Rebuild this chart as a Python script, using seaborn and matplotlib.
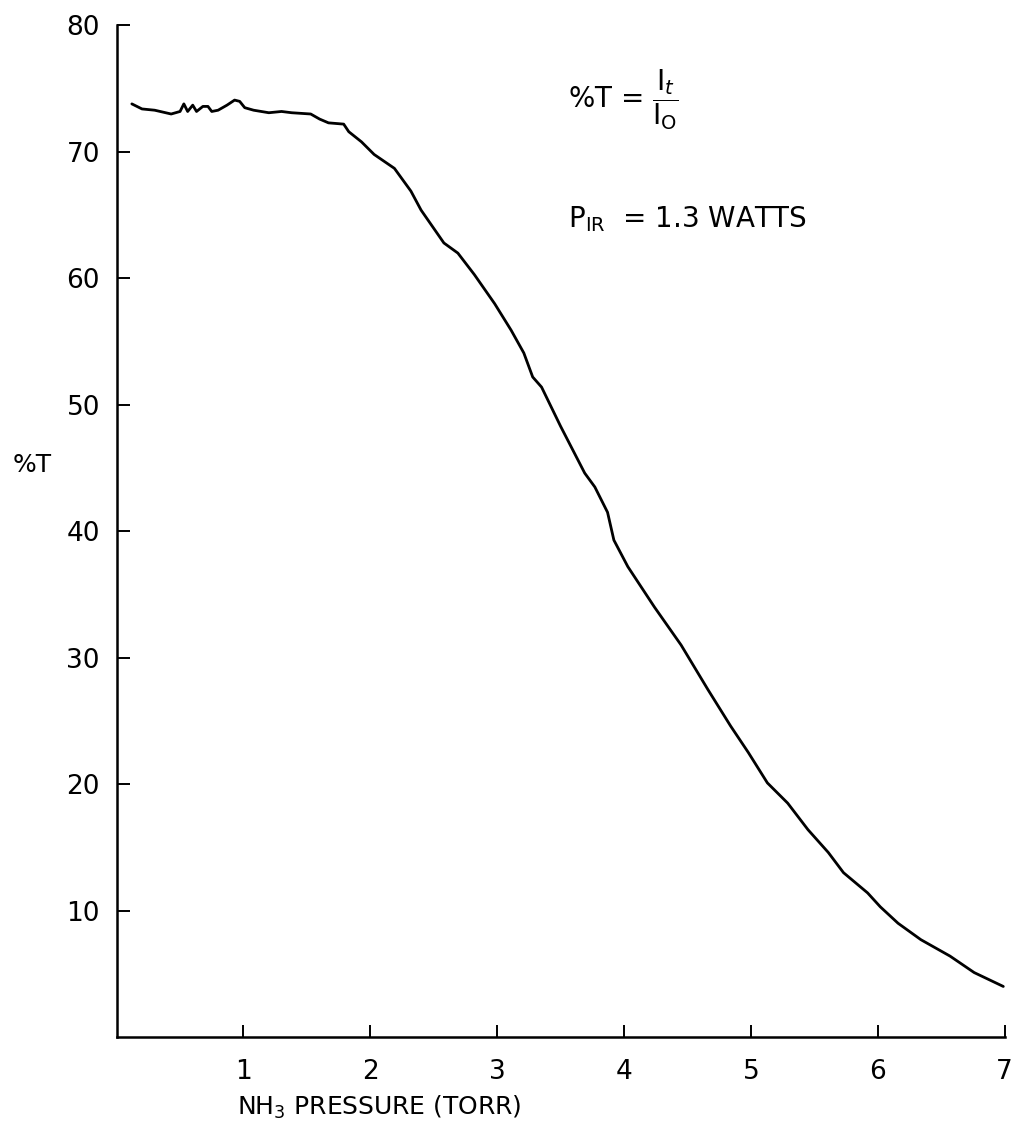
import matplotlib
matplotlib.use("Agg")
import matplotlib.pyplot as plt
import seaborn as sns
import pandas as pd

# Data
pressure = [0.12, 0.20, 0.30, 0.43, 0.50, 0.53, 0.56, 0.60, 0.63, 0.68, 0.72, 0.75,
            0.80, 0.87, 0.93, 0.97, 1.01, 1.08, 1.20, 1.30, 1.38, 1.53, 1.60, 1.67,
            1.79, 1.83, 1.93, 2.03, 2.19, 2.32, 2.40, 2.58, 2.69, 2.82, 2.98, 3.11,
            3.21, 3.28, 3.35, 3.50, 3.69, 3.77, 3.87, 3.92, 4.03, 4.24, 4.45, 4.66,
            4.84, 4.98, 5.13, 5.29, 5.45, 5.61, 5.73, 5.92, 6.02, 6.16, 6.34, 6.57,
            6.76, 6.99]
transmission = [73.8, 73.4, 73.3, 73.0, 73.2, 73.8, 73.2, 73.7, 73.2, 73.6, 73.6, 73.2,
                73.3, 73.7, 74.1, 74.0, 73.5, 73.3, 73.1, 73.2, 73.1, 73.0, 72.6, 72.3,
                72.2, 71.6, 70.8, 69.8, 68.7, 66.9, 65.4, 62.8, 62.0, 60.3, 58.0, 55.9,
                54.1, 52.2, 51.4, 48.3, 44.6, 43.5, 41.5, 39.3, 37.2, 34.0, 31.0, 27.5,
                24.6, 22.5, 20.1, 18.5, 16.4, 14.6, 13.0, 11.4, 10.3, 9.0, 7.7, 6.4,
                5.1, 4.0]
x_ticks = [1, 2, 3, 4, 5, 6, 7]
y_ticks = [10, 20, 30, 40, 50, 60, 70, 80]

sns.set_style("ticks")
plt.rcParams['font.family'] = ['DejaVu Sans']
plt.rcParams['mathtext.fontset'] = 'dejavusans'
plt.rcParams['text.color'] = 'black'
plt.rcParams['axes.labelcolor'] = 'black'

df = pd.DataFrame({"pressure": pressure, "T": transmission})

fig = plt.figure(figsize=(10.23, 11.33), dpi=100)
ax = fig.add_axes([0.114, 0.0847, 0.868, 0.8928])

sns.lineplot(data=df, x="pressure", y="T", ax=ax, color="black", linewidth=2.0,
             estimator=None, sort=False)

ax.set_xlim(0, 7)
ax.set_ylim(0, 80)
ax.set_xticks(x_ticks)
ax.set_yticks(y_ticks)
ax.set_xticklabels([str(v) for v in x_ticks])
ax.set_yticklabels([str(v) for v in y_ticks])
ax.tick_params(axis='both', direction='in', length=9, width=1.4, colors='black',
               labelsize=19)
ax.tick_params(axis='y', pad=12)
ax.tick_params(axis='x', pad=16)
for s in ['top', 'right']:
    ax.spines[s].set_visible(False)
for s in ['left', 'bottom']:
    ax.spines[s].set_linewidth(1.8)
    ax.spines[s].set_color('black')

ax.set_xlabel(r"NH$_3$ PRESSURE (TORR)", fontsize=18, color='black')
ax.xaxis.set_label_coords(0.296, -0.056)
ax.set_ylabel("%T", fontsize=18, rotation=0, color='black', va='center', ha='center')
ax.yaxis.set_label_coords(-0.095, 0.566)

ax.text(3.56, 74.1, r"%T = $\dfrac{\mathrm{I}_t}{\mathrm{I}_\mathrm{O}}$", fontsize=20,
        va='center', ha='left', color='black')
ax.text(3.56, 64.7, r"P$_{\mathrm{IR}}$  = 1.3 WATTS", fontsize=20, va='center',
        ha='left', color='black')

fig.savefig("out.png", dpi=100, facecolor='white')
